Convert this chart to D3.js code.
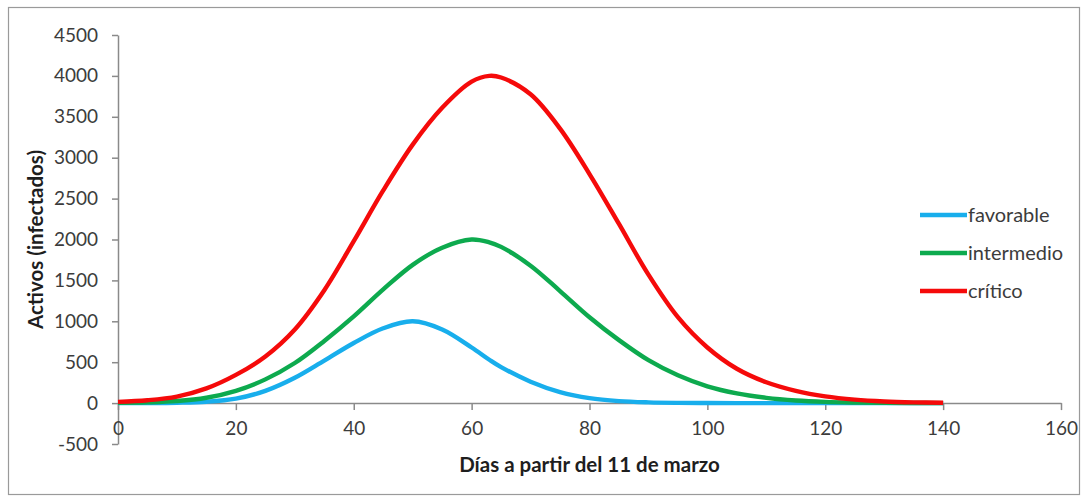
<!DOCTYPE html>
<html>
<head>
<meta charset="utf-8">
<script src="https://cdn.jsdelivr.net/npm/d3@7/dist/d3.min.js"></script>
<style>
  html, body { margin: 0; padding: 0; background: #fff; }
  svg { display: block; }
  text { font-family: Lato, "Open Sans", sans-serif; }
</style>
</head>
<body>
<svg id="chart" width="1083" height="498"></svg>
<script>
// Days since 11 March at which each scenario is sampled
const days = [0, 5, 10, 15, 20, 25, 30, 35, 40, 45, 50, 55, 60, 63, 65, 70, 75, 80,
              85, 90, 95, 100, 105, 110, 115, 120, 125, 130, 135, 140];

// Active infected cases per scenario
const favorable  = [0, 1, 5, 17, 55, 150, 310, 520, 735, 915, 1000, 900, 680, 530, 440, 262, 135, 60,
                    24, 9, 3, 1, 0, 0, 0, 0, 0, 0, 0, 0];
const intermedio = [5, 10, 25, 65, 150, 290, 490, 760, 1060, 1390, 1690, 1900, 2000, 1965, 1910, 1680, 1370, 1050,
                    770, 525, 340, 205, 118, 64, 32, 15, 7, 3, 1, 0];
const critico    = [15, 35, 80, 180, 345, 570, 900, 1380, 1980, 2600, 3160, 3610, 3930, 4000, 3980, 3775, 3355, 2800,
                    2190, 1570, 1050, 680, 420, 255, 150, 82, 42, 20, 9, 4];

const seriesNames  = ["favorable", "intermedio", "crítico"];
const seriesColors = ["#18AEEC", "#0DAA4E", "#F50A0A"];
const seriesValues = [favorable, intermedio, critico];

const xTicks = [0, 20, 40, 60, 80, 100, 120, 140, 160];
const yTicks = [-500, 0, 500, 1000, 1500, 2000, 2500, 3000, 3500, 4000, 4500];

const xTitle = "Días a partir del 11 de marzo";
const yTitle = "Activos (infectados)";

const svg = d3.select("#chart");

// Outer chart frame
svg.append("rect")
  .attr("x", 8.5).attr("y", 7.5)
  .attr("width", 1071).attr("height", 487)
  .attr("fill", "none").attr("stroke", "#9a9a9a").attr("stroke-width", 1.2);

const plot = { left: 118, right: 1061, top: 35, bottom: 444 };

const x = d3.scaleLinear().domain([0, 160]).range([plot.left, plot.right]);
const y = d3.scaleLinear().domain([-500, 4500]).range([plot.bottom, plot.top]);

const axisColor = "#8a8a8a";
const tickColor = "#3c3c3c";
const plain = d => String(d);

// Y axis
const yAxis = svg.append("g")
  .attr("transform", `translate(${plot.left},0)`)
  .call(d3.axisLeft(y).tickValues(yTicks).tickFormat(plain)
    .tickSize(6).tickPadding(14).tickSizeOuter(0));

// X axis at zero
const xAxis = svg.append("g")
  .attr("transform", `translate(0,${y(0)})`)
  .call(d3.axisBottom(x).tickValues(xTicks).tickFormat(plain)
    .tickSize(7).tickPadding(11).tickSizeOuter(0));

[yAxis, xAxis].forEach(g => {
  g.select(".domain").attr("stroke", axisColor).attr("stroke-width", 1.5);
  g.selectAll(".tick line").attr("stroke", axisColor).attr("stroke-width", 1.5);
  g.selectAll(".tick text")
    .attr("fill", tickColor)
    .style("font-family", "Lato, sans-serif")
    .style("font-size", "19px");
});

// Axis titles
svg.append("text")
  .attr("x", (plot.left + plot.right) / 2)
  .attr("y", 472)
  .attr("text-anchor", "middle")
  .attr("fill", "#1e1e1e")
  .style("font-weight", "bold")
  .style("font-size", "20.5px")
  .text(xTitle);

svg.append("text")
  .attr("transform", `translate(43,${(plot.top + plot.bottom) / 2}) rotate(-90)`)
  .attr("text-anchor", "middle")
  .attr("fill", "#1e1e1e")
  .style("font-weight", "bold")
  .style("font-size", "20.5px")
  .text(yTitle);

// Scenario curves
const line = d3.line()
  .x((d, i) => x(days[i]))
  .y(d => y(d))
  .curve(d3.curveCatmullRom.alpha(0.5));

seriesValues.forEach((vals, k) => {
  svg.append("path")
    .datum(vals)
    .attr("d", line)
    .attr("fill", "none")
    .attr("stroke", seriesColors[k])
    .attr("stroke-width", 4.4)
    .attr("stroke-linejoin", "round")
    .attr("stroke-linecap", "butt");
});

// Legend
const legend = svg.append("g").attr("transform", "translate(920,215)");
seriesNames.forEach((name, k) => {
  const row = legend.append("g").attr("transform", `translate(0,${k * 38})`);
  row.append("line")
    .attr("x1", 0).attr("x2", 47).attr("y1", 0).attr("y2", 0)
    .attr("stroke", seriesColors[k]).attr("stroke-width", 4.4);
  row.append("text")
    .attr("x", 48).attr("y", 0).attr("dy", "0.35em")
    .attr("fill", tickColor)
    .style("font-size", "20px")
    .text(name);
});
</script>
</body>
</html>
